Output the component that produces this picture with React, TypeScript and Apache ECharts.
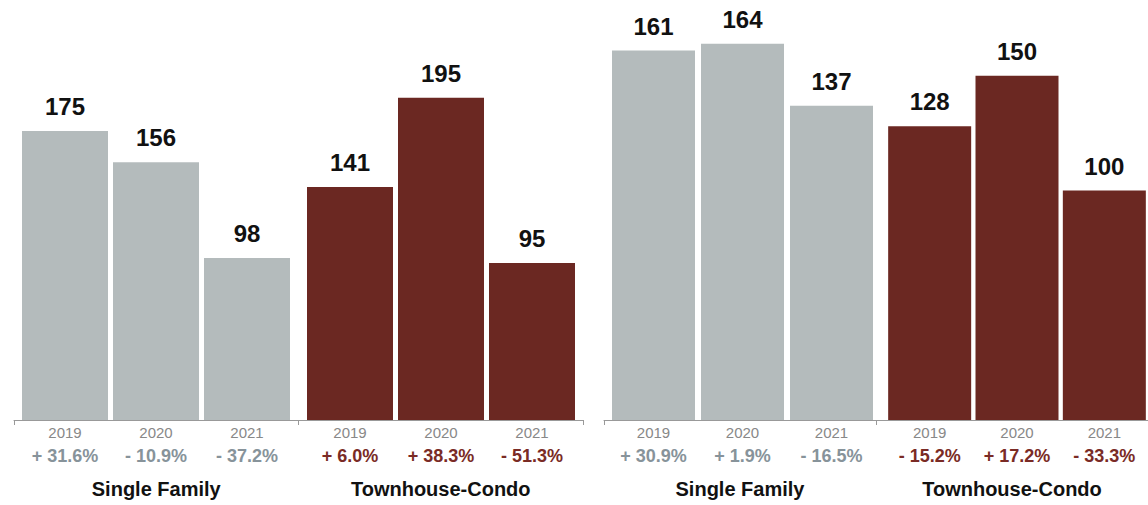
import React, { useEffect, useRef } from "react";
import * as echarts from "echarts";

const years = ["2019", "2020", "2021"];
const groups = ["Single Family", "Townhouse-Condo"];

const leftSingle = [175, 156, 98];
const leftTown = [141, 195, 95];
const rightSingle = [161, 164, 137];
const rightTown = [128, 150, 100];

const leftSinglePct = ["+ 31.6%", "- 10.9%", "- 37.2%"];
const leftTownPct = ["+ 6.0%", "+ 38.3%", "- 51.3%"];
const rightSinglePct = ["+ 30.9%", "+ 1.9%", "- 16.5%"];
const rightTownPct = ["- 15.2%", "+ 17.2%", "- 33.3%"];

const GREY = "#b4bbbc";
const RED = "#6b2822";
const GREY_TEXT = "#87939a";
const RED_TEXT = "#7a2b25";
const FONT = "'Liberation Sans', Arial, Helvetica, sans-serif";

export default function App() {
  const ref = useRef<HTMLDivElement>(null);
  useEffect(() => {
    if (!ref.current) return;
    const chart = echarts.init(ref.current, undefined, { renderer: "svg" });
    const TOP = 7;
    const H = 413;
    const grids = [
      { left: 14, width: 569, top: TOP, height: H },
      { left: 19.5, width: 273, top: TOP, height: H },
      { left: 304.5, width: 273, top: TOP, height: H },
      { left: 604, width: 554, top: TOP, height: H },
      { left: 609, width: 267, top: TOP, height: H },
      { left: 886, width: 267, top: TOP, height: H },
    ];
    const panelAxis = (gi: number) => ({
      type: "category",
      gridIndex: gi,
      data: groups,
      position: "bottom",
      axisLine: { show: true, lineStyle: { color: "#999", width: 1 } },
      axisTick: { show: true, length: 5, lineStyle: { color: "#999", width: 1 } },
      axisLabel: { margin: 59, fontSize: 20, fontWeight: "bold", color: "#111", fontFamily: FONT },
      splitLine: { show: false },
    });
    const yearAxis = (gi: number) => ({
      type: "category",
      gridIndex: gi,
      data: years,
      position: "bottom",
      axisLine: { show: false },
      axisTick: { show: false },
      axisLabel: { margin: 5, fontSize: 15, color: "#888", fontFamily: FONT },
    });
    const pctAxis = (gi: number, pct: string[], color: string) => ({
      type: "category",
      gridIndex: gi,
      data: years,
      position: "bottom",
      axisLine: { show: false },
      axisTick: { show: false },
      axisLabel: {
        margin: 27,
        fontSize: 18,
        fontWeight: "bold",
        color,
        fontFamily: FONT,
        formatter: (_v: string, i: number) => pct[i],
      },
    });
    const xAxis = [
      panelAxis(0),
      yearAxis(1),
      pctAxis(1, leftSinglePct, GREY_TEXT),
      yearAxis(2),
      pctAxis(2, leftTownPct, RED_TEXT),
      panelAxis(3),
      yearAxis(4),
      pctAxis(4, rightSinglePct, GREY_TEXT),
      yearAxis(5),
      pctAxis(5, rightTownPct, RED_TEXT),
    ];
    const yAx = (gi: number, max: number) => ({
      type: "value",
      gridIndex: gi,
      min: 0,
      max,
      show: false,
    });
    const yAxis = [yAx(0, 250), yAx(1, 250), yAx(2, 250), yAx(3, 180), yAx(4, 180), yAx(5, 180)];
    const bar = (xi: number, yi: number, data: number[], color: string, w: number) => ({
      type: "bar",
      xAxisIndex: xi,
      yAxisIndex: yi,
      data,
      barWidth: w,
      itemStyle: { color },
      label: {
        show: true,
        position: "top",
        distance: 12.5,
        fontSize: 24,
        fontWeight: "bold",
        color: "#111",
        fontFamily: FONT,
      },
    });
    chart.setOption({
      animation: false,
      backgroundColor: "#fff",
      textStyle: { fontFamily: FONT },
      grid: grids,
      xAxis,
      yAxis,
      series: [
        bar(1, 1, leftSingle, GREY, 86),
        bar(3, 2, leftTown, RED, 86),
        bar(6, 4, rightSingle, GREY, 83),
        bar(8, 5, rightTown, RED, 83),
      ],
    });
    return () => chart.dispose();
  }, []);
  return (
    <div
      ref={ref}
      style={{ position: "fixed", left: 0, top: 0, width: 1148, height: 505 }}
    />
  );
}
